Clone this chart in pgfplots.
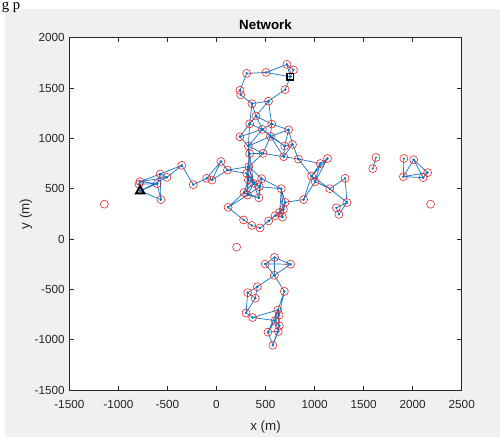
\documentclass[border=0pt]{standalone}
\usepackage{fontspec}
\setmainfont{Liberation Sans}
\newfontfamily\seriffont{Liberation Serif}
\usepackage{pgfplots}
\pgfplotsset{compat=1.18}
\definecolor{edgeblue}{RGB}{25,120,195}
\definecolor{nodered}{RGB}{228,40,40}
\definecolor{figgray}{RGB}{240,240,240}
\definecolor{axgray}{RGB}{38,38,38}
\begin{document}
\begin{tikzpicture}
\fill[white] (-52pt,-35.25pt) rectangle (323pt,292.5pt);
\fill[figgray] (-48.25pt,-35.25pt) rectangle (323pt,285.75pt);
\node[anchor=base west, inner sep=0pt, font=\seriffont\fontsize{11}{11}\selectfont] at (-50.8pt,285.6pt) {g p};
\begin{axis}[
  at={(0,0)}, anchor=south west,
  scale only axis, width=294.3pt, height=264.2pt,
  xmin=-1500, xmax=2500, ymin=-1500, ymax=2000,
  xtick={-1500,-1000,...,2500}, ytick={-1500,-1000,...,2000},
  tick align=inside, major tick length=3.2pt,
  tick style={axgray, line width=0.5pt},
  axis line style={axgray, line width=0.6pt},
  axis background/.style={fill=white},
  ticklabel style={font=\fontsize{8.8}{10}\selectfont, text=axgray},
  xticklabel style={yshift=-4.5pt},
  scaled ticks=false,
  /pgf/number format/1000 sep={},
  /pgf/number format/assume math mode=true,
  title={Network},
  title style={font=\bfseries\fontsize{10}{12}\selectfont, at={(axis description cs:0.5,1)}, anchor=base},
  xlabel={x (m)},
  xlabel style={font=\fontsize{10}{12}\selectfont, text=axgray, at={(axis description cs:0.5,0)}, anchor=base, yshift=-30pt},
  ylabel={y (m)},
  ylabel style={font=\fontsize{10}{12}\selectfont, text=axgray, at={(axis description cs:-0.102,0.5)}, anchor=base},
]
% edges
\addplot[edgeblue, line width=0.55pt, mark=*, mark size=0.5pt, unbounded coords=jump] coordinates {
(308,1646) (505,1655) (nan,nan)
(505,1655) (718,1735) (nan,nan)
(505,1655) (753,1612) (nan,nan)
(718,1735) (753,1612) (nan,nan)
(785,1680) (753,1612) (nan,nan)
(718,1735) (785,1680) (nan,nan)
(753,1612) (700,1485) (nan,nan)
(700,1485) (530,1370) (nan,nan)
(308,1646) (240,1478) (nan,nan)
(240,1478) (247,1432) (nan,nan)
(247,1432) (362,1345) (nan,nan)
(362,1345) (530,1370) (nan,nan)
(362,1345) (402,1222) (nan,nan)
(530,1370) (402,1222) (nan,nan)
(530,1370) (563,1142) (nan,nan)
(362,1345) (338,1145) (nan,nan)
(402,1222) (338,1145) (nan,nan)
(402,1222) (468,1090) (nan,nan)
(402,1222) (563,1142) (nan,nan)
(338,1145) (468,1090) (nan,nan)
(338,1145) (238,1016) (nan,nan)
(338,1145) (325,924) (nan,nan)
(563,1142) (468,1090) (nan,nan)
(563,1142) (735,1085) (nan,nan)
(563,1142) (550,1020) (nan,nan)
(468,1090) (550,1020) (nan,nan)
(468,1090) (238,1016) (nan,nan)
(468,1090) (325,924) (nan,nan)
(735,1085) (550,1020) (nan,nan)
(735,1085) (695,924) (nan,nan)
(735,1085) (775,940) (nan,nan)
(238,1016) (325,924) (nan,nan)
(550,1020) (325,924) (nan,nan)
(550,1020) (695,924) (nan,nan)
(550,1020) (475,851) (nan,nan)
(550,1020) (685,818) (nan,nan)
(325,924) (475,851) (nan,nan)
(325,924) (338,848) (nan,nan)
(695,924) (775,940) (nan,nan)
(695,924) (685,818) (nan,nan)
(775,940) (685,818) (nan,nan)
(775,940) (835,795) (nan,nan)
(475,851) (685,818) (nan,nan)
(475,851) (338,848) (nan,nan)
(338,848) (330,720) (nan,nan)
(325,924) (330,720) (nan,nan)
(475,851) (330,720) (nan,nan)
(685,818) (835,795) (nan,nan)
(468,1090) (695,924) (nan,nan)
(835,795) (1058,750) (nan,nan)
(835,795) (970,625) (nan,nan)
(338,848) (308,652) (nan,nan)
(338,848) (376,553) (nan,nan)
(45,770) (112,685) (nan,nan)
(45,770) (-47,586) (nan,nan)
(45,770) (-100,603) (nan,nan)
(112,685) (-47,586) (nan,nan)
(112,685) (330,720) (nan,nan)
(112,685) (308,652) (nan,nan)
(330,720) (308,652) (nan,nan)
(330,720) (325,586) (nan,nan)
(308,652) (325,586) (nan,nan)
(308,652) (376,553) (nan,nan)
(325,586) (376,553) (nan,nan)
(325,586) (280,462) (nan,nan)
(325,586) (318,437) (nan,nan)
(325,586) (437,520) (nan,nan)
(376,553) (460,600) (nan,nan)
(376,553) (437,520) (nan,nan)
(376,553) (280,462) (nan,nan)
(376,553) (318,437) (nan,nan)
(376,553) (432,410) (nan,nan)
(460,600) (437,520) (nan,nan)
(460,600) (660,500) (nan,nan)
(437,520) (432,410) (nan,nan)
(437,520) (318,437) (nan,nan)
(280,462) (318,437) (nan,nan)
(280,462) (118,315) (nan,nan)
(318,437) (432,410) (nan,nan)
(318,437) (118,315) (nan,nan)
(437,520) (660,500) (nan,nan)
(660,500) (700,365) (nan,nan)
(660,500) (645,265) (nan,nan)
(700,365) (682,295) (nan,nan)
(700,365) (888,392) (nan,nan)
(118,315) (276,190) (nan,nan)
(276,190) (360,135) (nan,nan)
(360,135) (444,110) (nan,nan)
(444,110) (532,180) (nan,nan)
(532,180) (598,232) (nan,nan)
(598,232) (672,218) (nan,nan)
(598,232) (645,265) (nan,nan)
(672,218) (682,295) (nan,nan)
(682,295) (645,265) (nan,nan)
(598,232) (682,295) (nan,nan)
(672,218) (645,265) (nan,nan)
(532,180) (645,265) (nan,nan)
(700,365) (645,265) (nan,nan)
(700,365) (672,218) (nan,nan)
(660,500) (682,295) (nan,nan)
(330,720) (376,553) (nan,nan)
(308,652) (437,520) (nan,nan)
(330,720) (460,600) (nan,nan)
(308,652) (318,437) (nan,nan)
(280,462) (432,410) (nan,nan)
(460,600) (432,410) (nan,nan)
(532,180) (682,295) (nan,nan)
(1058,750) (1132,800) (nan,nan)
(1058,750) (970,625) (nan,nan)
(1058,750) (1005,570) (nan,nan)
(1132,800) (970,625) (nan,nan)
(1132,800) (1005,570) (nan,nan)
(970,625) (1005,570) (nan,nan)
(970,625) (1155,500) (nan,nan)
(1005,570) (1155,500) (nan,nan)
(1155,500) (1311,603) (nan,nan)
(1155,500) (1330,363) (nan,nan)
(1311,603) (1330,363) (nan,nan)
(1330,363) (1222,310) (nan,nan)
(1330,363) (1248,245) (nan,nan)
(1222,310) (1248,245) (nan,nan)
(888,392) (970,625) (nan,nan)
(888,392) (1005,570) (nan,nan)
(1626,810) (1593,700) (nan,nan)
(1910,800) (1905,620) (nan,nan)
(2010,788) (1905,620) (nan,nan)
(2010,788) (2107,610) (nan,nan)
(2010,788) (2152,660) (nan,nan)
(1905,620) (2107,610) (nan,nan)
(1905,620) (2152,660) (nan,nan)
(2107,610) (2152,660) (nan,nan)
(-778,478) (-780,570) (nan,nan)
(-778,478) (-790,545) (nan,nan)
(-780,570) (-574,646) (nan,nan)
(-780,570) (-505,613) (nan,nan)
(-780,570) (-605,550) (nan,nan)
(-790,545) (-605,550) (nan,nan)
(-778,478) (-605,550) (nan,nan)
(-778,478) (-505,613) (nan,nan)
(-778,478) (-566,392) (nan,nan)
(-574,646) (-566,392) (nan,nan)
(-574,646) (-505,613) (nan,nan)
(-574,646) (-605,550) (nan,nan)
(-505,613) (-354,732) (nan,nan)
(-574,646) (-354,732) (nan,nan)
(-605,550) (-566,392) (nan,nan)
(-354,732) (-236,540) (nan,nan)
(-236,540) (-100,603) (nan,nan)
(-100,603) (-47,586) (nan,nan)
(497,-248) (592,-183) (nan,nan)
(497,-248) (755,-250) (nan,nan)
(592,-183) (755,-250) (nan,nan)
(497,-248) (590,-360) (nan,nan)
(592,-183) (590,-360) (nan,nan)
(755,-250) (590,-360) (nan,nan)
(590,-360) (417,-474) (nan,nan)
(590,-360) (692,-520) (nan,nan)
(417,-474) (318,-533) (nan,nan)
(417,-474) (395,-588) (nan,nan)
(318,-533) (395,-588) (nan,nan)
(318,-533) (301,-735) (nan,nan)
(395,-588) (301,-735) (nan,nan)
(301,-735) (368,-780) (nan,nan)
(368,-780) (626,-705) (nan,nan)
(368,-780) (598,-810) (nan,nan)
(692,-520) (626,-705) (nan,nan)
(692,-520) (638,-755) (nan,nan)
(626,-705) (638,-755) (nan,nan)
(626,-705) (598,-810) (nan,nan)
(626,-705) (640,-862) (nan,nan)
(638,-755) (598,-810) (nan,nan)
(638,-755) (640,-862) (nan,nan)
(598,-810) (640,-862) (nan,nan)
(598,-810) (630,-918) (nan,nan)
(640,-862) (630,-918) (nan,nan)
(598,-810) (525,-925) (nan,nan)
(630,-918) (525,-925) (nan,nan)
(525,-925) (575,-1055) (nan,nan)
(630,-918) (575,-1055) (nan,nan)
(638,-755) (525,-925) (nan,nan)
(626,-705) (525,-925) (nan,nan)
(640,-862) (575,-1055)
};
% nodes
\addplot[only marks, mark=o, mark size=3pt, nodered, mark options={line width=0.45pt}] coordinates {
(308,1646) (505,1655) (718,1735) (785,1680) (700,1485) (240,1478) (247,1432) (362,1345) (530,1370) (402,1222) (338,1145) (563,1142) (468,1090) (735,1085) (238,1016) (550,1020) (325,924) (695,924) (775,940) (475,851) (338,848) (685,818) (835,795)
(45,770) (112,685) (330,720) (308,652) (325,586) (376,553) (460,600) (437,520) (280,462) (318,437) (432,410) (660,500) (700,365) (118,315) (276,190) (360,135) (444,110) (532,180) (598,232) (672,218) (682,295) (645,265)
(1058,750) (1132,800) (970,625) (1005,570) (1155,500) (1311,603) (1330,363) (1222,310) (1248,245) (888,392)
(1626,810) (1593,700) (1910,800) (2010,788) (1905,620) (2107,610) (2152,660) (2182,346)
(-1143,346) (-780,570) (-790,545) (-574,646) (-505,613) (-605,550) (-566,392) (-354,732) (-236,540) (-100,603) (-47,586)
(205,-80)
(497,-248) (592,-183) (755,-250) (590,-360) (417,-474) (318,-533) (395,-588) (692,-520) (301,-735) (368,-780) (626,-705) (638,-755) (598,-810) (640,-862) (630,-918) (525,-925) (575,-1055)
};
% source and destination
\addplot[only marks, mark=triangle, mark size=3.6pt, black, mark options={line width=1.4pt}] coordinates {(-778,478)};
\addplot[only marks, mark=square, mark size=2.4pt, black, mark options={line width=1.3pt}] coordinates {(753,1612)};
\end{axis}
\pgfresetboundingbox
\path (-52pt,-35.25pt) rectangle (323pt,292.5pt);
\end{tikzpicture}
\end{document}
